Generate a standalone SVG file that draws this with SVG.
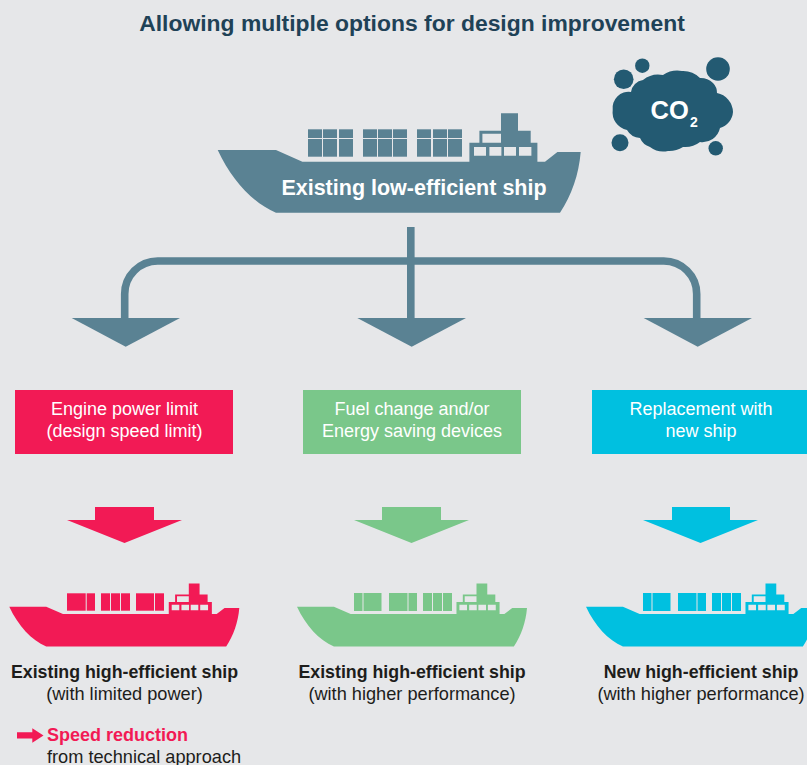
<svg xmlns="http://www.w3.org/2000/svg" width="807" height="765" viewBox="0 0 807 765">
<style>
text{font-family:"Liberation Sans",Arial,sans-serif}
.b{font-weight:bold}
.m{text-anchor:middle}
.lbl{font-size:18px;fill:#fff;text-anchor:middle}
.cap{font-size:18.2px;fill:#1d1d1b;text-anchor:middle}
.capb{font-size:17.8px;font-weight:bold;fill:#1d1d1b;text-anchor:middle}
.slate{fill:#5a8293}
.red{fill:#f21a55}
.green{fill:#7ac78a}
.blue{fill:#00c0e0}
.dark{fill:#235a72}
.conn{fill:none;stroke:#5a8293;stroke-width:7.6}
</style>
<defs>
<path id="ship" fill-rule="evenodd" d="M0,0H58.3L84.7,11.7H251.7V-7.3H261.7V-19.3H283.3V-36.7H300.3V-19.3H313V-7.3H319.7V11.7H327.3L339.7,2H363C361,25 354,45 342.3,62.7H58.3C35,53 14,30 0,0ZM256.3,-3V5.7H268.3V-3ZM271.7,-3V5.7H283.7V-3ZM286.3,-3V5.7H298.3V-3ZM301.3,-3V5.7H313.7V-3ZM264.7,-16.3V-7.3H283.3V-16.3Z"/>
</defs>
<rect width="807" height="765" fill="#e6e7e9"/>
<text id="title" class="b m" x="412" y="31" font-size="22.9" fill="#1f4257">Allowing multiple options for design improvement</text>

<g id="co2-cloud">
<path class="dark" d="M612.7,110A16,16 0 0 1 631,92A14,14 0 0 1 643,80A24,24 0 0 1 663,75A26,26 0 0 1 682,71A24,24 0 0 1 700,78A18,18 0 0 1 713,83A14,14 0 0 1 717,93A20,20 0 0 1 733,112A18,18 0 0 1 720,128A18,18 0 0 1 700,142A24,24 0 0 1 683,147A26,26 0 0 1 668,151A22,22 0 0 1 650,147A16,16 0 0 1 640,138A16,16 0 0 1 627,130A18,18 0 0 1 612.7,110Z"/>
<circle class="dark" cx="642.3" cy="65.7" r="7.2"/>
<circle class="dark" cx="623.7" cy="79.3" r="9.8"/>
<circle class="dark" cx="718" cy="69" r="11.8"/>
<circle class="dark" cx="620" cy="142.7" r="8.5"/>
<circle class="dark" cx="715.7" cy="148.3" r="7.2"/>
<text class="b" x="650.5" y="119" font-size="25.5" fill="#fff">CO</text>
<text class="b" x="690" y="127.3" font-size="14" fill="#fff">2</text>
</g>

<g id="ship-existing">
<use href="#ship" x="217.7" y="150" class="slate"/>
<g class="slate">
<rect x="308" y="129.3" width="14" height="8.7"/><rect x="323" y="129.3" width="14" height="8.7"/><rect x="339" y="129.3" width="14" height="8.7"/>
<rect x="308" y="139" width="14" height="17.7"/><rect x="323" y="139" width="14" height="17.7"/><rect x="339" y="139" width="14" height="17.7"/>
<rect x="363" y="129.3" width="14" height="8.7"/><rect x="378" y="129.3" width="14" height="8.7"/><rect x="393" y="129.3" width="14" height="8.7"/>
<rect x="363" y="139" width="14" height="17.7"/><rect x="378" y="139" width="14" height="17.7"/><rect x="393" y="139" width="14" height="17.7"/>
<rect x="417" y="129.3" width="14" height="8.7"/><rect x="433" y="129.3" width="14" height="8.7"/><rect x="448" y="129.3" width="14" height="8.7"/>
<rect x="417" y="139" width="14" height="17.7"/><rect x="433" y="139" width="14" height="17.7"/><rect x="448" y="139" width="14" height="17.7"/>
</g>
<text class="b m" x="414" y="194.5" font-size="21.5" fill="#fff">Existing low-efficient ship</text>
</g>

<g id="connectors">
<path class="conn" d="M410.8,227V320"/>
<path class="conn" d="M124.7,320V294A33,33 0 0 1 157.7,261H663.7A33,33 0 0 1 696.7,294V320"/>
<path class="slate" d="M71.7,318H180L125.7,346.7Z"/>
<path class="slate" d="M357.3,318H466L411.7,346.7Z"/>
<path class="slate" d="M643.7,318H752L697.7,346.7Z"/>
<path class="red" d="M95,507H154V520H182L124.5,543L67,520H95Z"/>
<path class="green" d="M382,507H441V520H469L411.5,543L354,520H382Z"/>
<path class="blue" d="M672,507H730V520H758L700.5,543L643,520H672Z"/>
</g>

<g id="box-engine">
<rect class="red" x="15" y="390" width="218" height="64"/>
<text class="lbl" x="124.5" y="414.5">Engine power limit</text>
<text class="lbl" x="124.5" y="436.5">(design speed limit)</text>
</g>
<g id="box-fuel">
<rect class="green" x="303" y="390" width="218" height="64"/>
<text class="lbl" x="412" y="414.5">Fuel change and/or</text>
<text class="lbl" x="412" y="436.5">Energy saving devices</text>
</g>
<g id="box-replace">
<rect class="blue" x="592" y="390" width="215" height="64"/>
<text class="lbl" x="701" y="414.5">Replacement with</text>
<text class="lbl" x="701" y="436.5">new ship</text>
</g>

<g id="ship-red">
<use href="#ship" transform="translate(9.3,606.7) scale(.6336)" class="red"/>
<g class="red">
<rect x="67" y="593.3" width="18.7" height="17.4"/><rect x="86.7" y="593.3" width="8.3" height="17.4"/>
<rect x="101" y="593.3" width="9" height="17.4"/><rect x="111" y="593.3" width="9" height="17.4"/><rect x="121" y="593.3" width="9" height="17.4"/>
<rect x="136" y="593.3" width="18" height="17.4"/><rect x="155" y="593.3" width="9" height="17.4"/>
</g>
<text class="capb" x="124.5" y="678">Existing high-efficient ship</text>
<text class="cap" x="124.5" y="699.5">(with limited power)</text>
</g>

<g id="ship-green">
<use href="#ship" transform="translate(297,606.7) scale(.6336)" class="green"/>
<g class="green">
<rect x="354" y="593" width="8.5" height="18"/><rect x="363.5" y="593" width="18" height="18"/>
<rect x="389" y="593" width="18.5" height="18"/><rect x="408.5" y="593" width="8.5" height="18"/>
<rect x="423" y="593" width="9" height="18"/><rect x="433" y="593" width="9" height="18"/><rect x="443" y="593" width="9" height="18"/>
</g>
<text class="capb" x="412" y="678">Existing high-efficient ship</text>
<text class="cap" x="412" y="699.5">(with higher performance)</text>
</g>

<g id="ship-blue">
<use href="#ship" transform="translate(586,606.7) scale(.6336)" class="blue"/>
<g class="blue">
<rect x="643" y="593" width="8.5" height="18"/><rect x="652.5" y="593" width="18" height="18"/>
<rect x="678" y="593" width="18.5" height="18"/><rect x="697.5" y="593" width="8.5" height="18"/>
<rect x="712" y="593" width="9" height="18"/><rect x="722" y="593" width="9" height="18"/><rect x="732" y="593" width="9" height="18"/>
</g>
<text class="capb" x="701" y="678">New high-efficient ship</text>
<text class="cap" x="701" y="699.5">(with higher performance)</text>
</g>

<g id="legend">
<path class="red" d="M17,732.3H32.3V728.3L43.5,735.5L32.3,742.7V738.5H17Z"/>
<text class="b red" x="47" y="741" font-size="18">Speed reduction</text>
<text x="47" y="762.5" font-size="18.2" fill="#1d1d1b">from technical approach</text>
</g>
</svg>
